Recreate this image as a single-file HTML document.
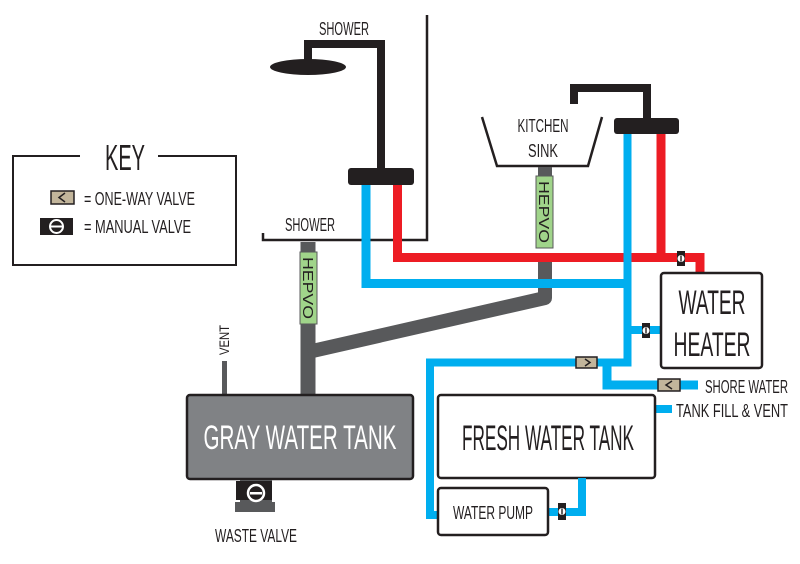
<!DOCTYPE html>
<html><head><meta charset="utf-8"><style>
html,body{margin:0;padding:0;background:#fff;}
svg{display:block;}
text{font-family:"Liberation Sans",sans-serif;fill:#231f20;}
</style></head><body>
<svg width="800" height="564" viewBox="0 0 800 564" xmlns="http://www.w3.org/2000/svg">
<!-- Key -->
<path d="M80 156 H13 V265 H236 V156 H158" fill="none" stroke="#231f20" stroke-width="2"/>
<text x="125" y="170" font-size="36" text-anchor="middle" textLength="40" lengthAdjust="spacingAndGlyphs">KEY</text>
<rect x="51" y="191" width="23" height="13" fill="#c2b59b" stroke="#231f20" stroke-width="1.5"/>
<path d="M65 193 L59 197.5 L65 202" fill="none" stroke="#231f20" stroke-width="1.5"/>
<text x="84" y="205" font-size="18" textLength="111" lengthAdjust="spacingAndGlyphs">= ONE-WAY VALVE</text>
<rect x="40" y="218" width="33" height="17" fill="#231f20"/>
<circle cx="56.5" cy="226.5" r="6.5" fill="#231f20" stroke="#fff" stroke-width="2"/>
<rect x="51" y="225.5" width="11" height="2" fill="#fff"/>
<text x="84" y="233" font-size="18" textLength="107" lengthAdjust="spacingAndGlyphs">= MANUAL VALVE</text>

<!-- Shower head -->
<ellipse cx="308" cy="67" rx="38" ry="8" fill="#231f20"/>
<path d="M308 64 V44 H381 V170" fill="none" stroke="#231f20" stroke-width="8"/>
<text x="344" y="35" font-size="18" text-anchor="middle" textLength="50" lengthAdjust="spacingAndGlyphs">SHOWER</text>
<!-- shower floor -->
<path d="M263 233 V240 H427 V15" fill="none" stroke="#231f20" stroke-width="2.5"/>
<text x="310" y="231" font-size="18" text-anchor="middle" textLength="50" lengthAdjust="spacingAndGlyphs">SHOWER</text>

<!-- gray drain -->
<path d="M308 242 V396" stroke="#58595b" stroke-width="15" fill="none"/>
<path d="M308 352 L545 298 V260" stroke="#58595b" stroke-width="14" fill="none" stroke-linejoin="round"/>
<rect x="300" y="252" width="17" height="72" fill="#a0d48a" stroke="#58595b" stroke-width="1"/>
<text transform="translate(303 288) rotate(90)" font-size="15" text-anchor="middle" textLength="62" lengthAdjust="spacingAndGlyphs">HEPVO</text>
<!-- vent -->
<rect x="222" y="361" width="5" height="35" fill="#58595b"/>
<text transform="translate(229 340) rotate(-90)" font-size="14" text-anchor="middle" textLength="30" lengthAdjust="spacingAndGlyphs">VENT</text>

<!-- Hot / cold pipes from shower -->
<path d="M366 185 V283.5 H631" stroke="#00aeef" stroke-width="9" fill="none"/>
<path d="M397.5 185 V257.5 H700 V273" stroke="#ed1c24" stroke-width="9" fill="none"/>
<rect x="348" y="168" width="66" height="17" rx="3" fill="#231f20"/>

<!-- Kitchen sink -->
<path d="M482 117 L497 166 H588 L602 117" fill="none" stroke="#231f20" stroke-width="2.5"/>
<text x="543" y="132" font-size="18" text-anchor="middle" textLength="51" lengthAdjust="spacingAndGlyphs">KITCHEN</text>
<text x="543" y="157" font-size="18" text-anchor="middle" textLength="30" lengthAdjust="spacingAndGlyphs">SINK</text>
<rect x="538" y="167" width="14" height="12" fill="#58595b"/>
<rect x="536" y="176" width="17" height="72" fill="#a0d48a" stroke="#58595b" stroke-width="1"/>
<text transform="translate(539 212) rotate(90)" font-size="15" text-anchor="middle" textLength="62" lengthAdjust="spacingAndGlyphs">HEPVO</text>

<!-- kitchen faucet -->
<path d="M574 104 V88 H647 V120" fill="none" stroke="#231f20" stroke-width="8"/>
<!-- kitchen pipes -->
<path d="M661 130 V257" stroke="#ed1c24" stroke-width="9" fill="none"/>
<path d="M627.5 130 V362.5 H430 V515 H440" stroke="#00aeef" stroke-width="8" fill="none"/>
<path d="M627.5 330 H661" stroke="#00aeef" stroke-width="8" fill="none"/>
<path d="M607 362 V385 H698" stroke="#00aeef" stroke-width="9" fill="none"/>
<rect x="614" y="118" width="65" height="16" rx="3" fill="#231f20"/>
<!-- valves -->
<rect x="576" y="357" width="21" height="11" fill="#c2b59b" stroke="#231f20" stroke-width="1.5"/>
<path d="M585 359 L590 362.5 L585 366" fill="none" stroke="#231f20" stroke-width="1.5"/>
<rect x="658" y="379" width="22" height="12" fill="#c2b59b" stroke="#231f20" stroke-width="1.5"/>
<path d="M672 381 L666 385 L672 389" fill="none" stroke="#231f20" stroke-width="1.5"/>
<g>
<rect x="677" y="251" width="8" height="15" fill="#231f20"/><circle cx="681" cy="258.5" r="3.5" fill="#fff"/><rect x="680.3" y="255.5" width="1.4" height="6" fill="#231f20"/>
<rect x="642" y="323" width="8" height="15" fill="#231f20"/><circle cx="646" cy="330.5" r="3.5" fill="#fff"/><rect x="645.3" y="327.5" width="1.4" height="6" fill="#231f20"/>
</g>

<!-- Water heater -->
<rect x="661" y="273" width="101" height="95" rx="3" fill="#fff" stroke="#231f20" stroke-width="2.5"/>
<text x="712" y="314" font-size="34" text-anchor="middle" textLength="67" lengthAdjust="spacingAndGlyphs">WATER</text>
<text x="712" y="356" font-size="34" text-anchor="middle" textLength="77" lengthAdjust="spacingAndGlyphs">HEATER</text>

<!-- labels right -->
<text x="705" y="393" font-size="18" textLength="83" lengthAdjust="spacingAndGlyphs">SHORE WATER</text>
<rect x="655" y="405" width="17" height="8" fill="#00aeef"/>
<text x="676" y="417" font-size="18" textLength="112" lengthAdjust="spacingAndGlyphs">TANK FILL &amp; VENT</text>

<!-- Fresh tank -->
<rect x="438" y="395" width="217" height="83" rx="3" fill="#fff" stroke="#231f20" stroke-width="2.5"/>
<text x="548" y="450" font-size="35" text-anchor="middle" textLength="172" lengthAdjust="spacingAndGlyphs">FRESH WATER TANK</text>

<!-- pump -->
<path d="M548 512 H582 V478" stroke="#00aeef" stroke-width="8" fill="none"/>
<rect x="558" y="503" width="8" height="17" fill="#231f20"/><circle cx="562" cy="511.5" r="3.5" fill="#fff"/><rect x="561.3" y="508.5" width="1.4" height="6" fill="#231f20"/>
<rect x="438" y="488" width="110" height="47" rx="3" fill="#fff" stroke="#231f20" stroke-width="2.5"/>
<text x="493" y="519" font-size="18" text-anchor="middle" textLength="80" lengthAdjust="spacingAndGlyphs">WATER PUMP</text>

<!-- Gray tank -->
<rect x="187" y="395" width="226" height="84" rx="3" fill="#808285" stroke="#231f20" stroke-width="2.5"/>
<text x="300" y="449" font-size="34" text-anchor="middle" style="fill:#fff" textLength="193" lengthAdjust="spacingAndGlyphs">GRAY WATER TANK</text>

<!-- waste valve -->
<rect x="240" y="480" width="32" height="30" fill="#58595b"/>
<rect x="235" y="502" width="40" height="10" fill="#58595b"/>
<rect x="236" y="481" width="36" height="19" fill="#231f20"/>
<circle cx="256" cy="493" r="8" fill="#231f20" stroke="#fff" stroke-width="2.5"/>
<rect x="250" y="492" width="12" height="2.5" fill="#fff"/>
<text x="256" y="542" font-size="18" text-anchor="middle" textLength="82" lengthAdjust="spacingAndGlyphs">WASTE VALVE</text>
</svg>
</body></html>
